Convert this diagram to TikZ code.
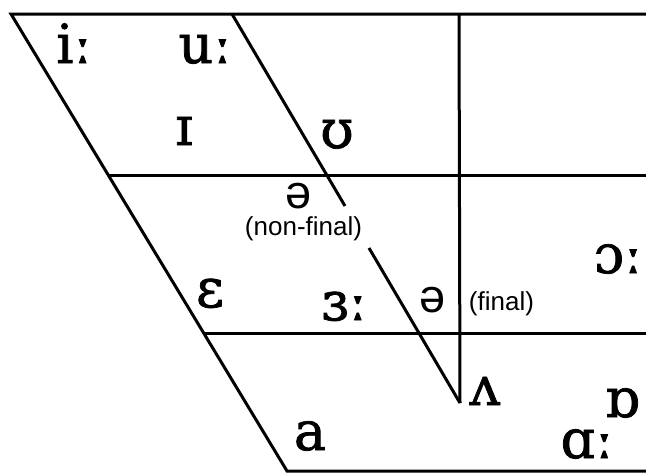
\documentclass[tikz,border=0pt]{standalone}
\usepackage{fontspec}
\setmainfont{DejaVu Serif}
\newfontfamily\ipafont[FakeBold=1.4]{DejaVu Serif}
\newfontfamily\labelsans{Liberation Sans}
\begin{document}
\begin{tikzpicture}[x=1pt,y=-1pt,
  ln/.style={line width=3pt,line join=miter},
  ipa/.style={anchor=base,inner sep=0pt,font=\ipafont\fontsize{54}{54}\selectfont},
  schwa/.style={anchor=base,inner sep=0pt,font=\labelsans\fontsize{47}{47}\selectfont},
  note/.style={anchor=base,inner sep=0pt,font=\labelsans\fontsize{26}{26}\selectfont}]
\useasboundingbox (0,0) rectangle (646,475);
% frame coordinates
\coordinate (TL) at (11,14);
\coordinate (TM) at (232,14);
\coordinate (TV) at (459,14);
\coordinate (TR) at (646,14);
\coordinate (L2) at (108,175);
\coordinate (R2) at (646,175);
\coordinate (L3) at (204,333);
\coordinate (R3) at (646,333);
\coordinate (BL) at (287,471);
\coordinate (BR) at (646,471);
\coordinate (G1) at (345,206);
\coordinate (G2) at (369,248);
\coordinate (VB) at (460,403);
% lines
\draw[ln] (TR) -- (TL) -- (BL) -- (BR);
\draw[ln] (L2) -- (R2);
\draw[ln] (L3) -- (R3);
\draw[ln] (TV) -- (VB);
\draw[ln] (TM) -- (G1);
\draw[ln] (G2) -- (VB);
% vowels
\node[ipa] (iy) at (74,63) {iː};
\node[ipa] (uw) at (205,63) {uː};
\node[ipa] (ih) at (184,145) {ɪ};
\node[ipa] (uh) at (337,148) {ʊ};
\node[schwa] (sc1) at (298.5,208) {ə};
\node[note] (nf) at (303.5,235) {(non-final)};
\node[ipa] (eh) at (210,307) {ɛ};
\node[ipa] (er) at (344,320) {ɜː};
\node[schwa] (sc2) at (432.5,312) {ə};
\node[note] (fn) at (501.5,310) {(final)};
\node[ipa] (aw) at (618,273) {ɔː};
\node[ipa] (ah) at (485,405) {ʌ};
\node[ipa] (ox) at (622,417) {ɒ};
\node[ipa] (aa) at (587,458) {ɑː};
\node[ipa] (ae) at (310,450) {a};
\end{tikzpicture}
\end{document}
